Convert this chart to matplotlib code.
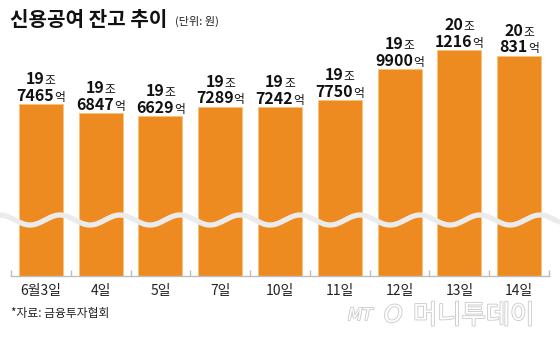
import numpy as np
import matplotlib
matplotlib.use("Agg")
import matplotlib.pyplot as plt
import matplotlib.patheffects as pe

plt.rcParams['font.family'] = ['Noto Sans CJK KR', 'DejaVu Sans']

# 신용공여 잔고 (단위: 억원)
dates = ['6월3일', '4일', '5일', '7일', '10일', '11일', '12일', '13일', '14일']
jo = [19, 19, 19, 19, 19, 19, 19, 20, 20]
eok = [7465, 6847, 6629, 7289, 7242, 7750, 9900, 1216, 831]
total = [j * 10000 + e for j, e in zip(jo, eok)]

ORANGE = '#EE8B20'
W, H = 560, 338
fig = plt.figure(figsize=(W / 100, H / 100), dpi=100)

# bar axes: baseline at y=276px, x from 11px to 549px
ax = fig.add_axes([11 / W, (H - 276) / H, 538 / W, 236 / H])
x = np.arange(len(dates))
ax.bar(x, total, width=0.735, color=ORANGE, edgecolor='#F7C27E', linewidth=0.7, zorder=2)
ax.set_xlim(-0.5, len(dates) - 0.5)
ax.set_ylim(185509, 201911)   # 축 생략(물결) 구간
for sp in ['top', 'right', 'left']:
    ax.spines[sp].set_visible(False)
ax.spines['bottom'].set_color('#bdbdbd')
ax.spines['bottom'].set_linewidth(1)
ax.set_yticks([])
ax.set_xticks(x)
ax.set_xticklabels(dates, fontsize=10, color='#222222')
ax.tick_params(axis='x', which='major', length=0, pad=6)
ax.set_xticks(np.arange(len(dates) + 1) - 0.5, minor=True)
ax.tick_params(axis='x', which='minor', direction='in', length=4.5, color='#bdbdbd', width=1)

# value labels: "19조" / "7465억" (숫자 굵게, 단위 작게)
pairs = []
for xi, j, e, t in zip(x, jo, eok, total):
    for num, unit, dy in [(f'{j}', '조', 14.2), (f'{e}', '억', 2.2)]:
        tn = ax.annotate(num, (xi, t), xytext=(0, dy), textcoords='offset points', ha='left',
                         va='baseline', fontsize=11.5, fontweight='bold', color='#111111',
                         annotation_clip=False)
        tu = ax.annotate(unit, (xi, t), xytext=(0, dy), textcoords='offset points', ha='left',
                         va='baseline', fontsize=8.5, color='#111111', annotation_clip=False)
        pairs.append((tn, tu, dy))

fig.canvas.draw()
r = fig.canvas.get_renderer()
for tn, tu, dy in pairs:
    wn = tn.get_window_extent(r).width * 0.72
    wu = tu.get_window_extent(r).width * 0.72
    tn.set_position((-(wn + wu) / 2, dy))
    tu.set_position((wn - (wn + wu) / 2, dy))

# overlay in pixel coordinates for the wave, titles and footer
ov = fig.add_axes([0, 0, 1, 1], zorder=3)
ov.set_xlim(0, W)
ov.set_ylim(H, 0)
ov.axis('off')
xs = np.linspace(0, W, 600)
ov.plot(xs, 220 + 5 * np.cos(2 * np.pi * (xs - 30) / 60), color='#ebebeb', lw=3.8, solid_capstyle='butt')

ov.text(10, 19, '신용공여 잔고 추이', fontsize=14.5, fontweight='bold', color='#111111', va='center', ha='left')
ov.text(175, 21, '(단위: 원)', fontsize=8, color='#222222', va='center', ha='left')
ov.text(11, 313, '*자료: 금융투자협회', fontsize=8.5, color='#222222', va='center', ha='left')

# 워터마크
outline = [pe.withStroke(linewidth=1.3, foreground='#cccccc')]
ov.text(348, 315, 'MT', fontsize=12, style='italic', color='white', va='center', ha='left',
        family='DejaVu Sans', path_effects=outline)
ov.text(384, 315, 'O', fontsize=17, style='italic', color='white', va='center', ha='left',
        family='DejaVu Sans', path_effects=outline)
ov.text(413, 316, '머니투데이', fontsize=19, color='white', va='center', ha='left',
        fontweight='light', path_effects=outline)

fig.savefig('out.png', dpi=100)
